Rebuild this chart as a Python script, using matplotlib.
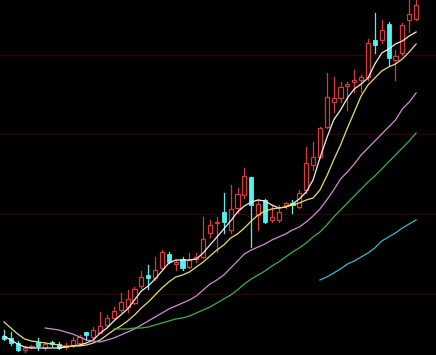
import matplotlib
matplotlib.use('Agg')
import matplotlib.pyplot as plt
from matplotlib.patches import Rectangle

# K线数据 (价格单位, 从图上读出)
opens = [19, 17, 12, 5, 8, 13, 7, 13, 11, 8, 10, 12, 23, 18, 22, 30, 37, 45, 48, 52,
         69, 80, 77, 87, 101, 91, 96, 88, 96, 98, 122, 132, 143, 125, 147, 160, 178, 140,
         155, 135, 135, 150, 152, 148, 165, 190, 198, 228, 253, 257, 269, 273, 275, 278,
         315, 315, 331, 295, 302, 335, 336]
closes = [16, 12, 5, 7, 9, 9, 11, 11, 7, 10, 15, 18, 20, 25, 29, 37, 44, 53, 56, 66,
          78, 77, 85, 103, 93, 93, 87, 95, 98, 116, 130, 133, 133, 146, 161, 179, 150, 151,
          133, 138, 143, 152, 150, 162, 192, 198, 227, 258, 257, 268, 271, 275, 278, 312,
          310, 325, 297, 299, 330, 341, 350]
highs = [25, 23, 14, 9, 10, 17, 13, 14, 13, 12, 18, 20, 23, 28, 43, 40, 48, 62, 65, 68,
         84, 90, 98, 105, 103, 95, 98, 102, 102, 138, 135, 138, 162, 170, 167, 187, 178,
         156, 156, 150, 150, 153, 155, 165, 208, 213, 228, 282, 278, 273, 273, 285, 280,
         316, 342, 335, 333, 305, 332, 355, 355]
lows = [15, 10, 4, 3, 7, 5, 5, 9, 6, 6, 8, 10, 15, 16, 22, 29, 35, 43, 43, 51, 67, 66,
        75, 85, 92, 85, 85, 87, 93, 97, 118, 103, 122, 122, 142, 157, 108, 125, 132, 133,
        133, 147, 142, 147, 162, 185, 197, 227, 243, 253, 245, 263, 263, 275, 302, 312,
        290, 275, 300, 323, 335]

# 均线数据 (起始序号, 数值)
ma5_start = 0
ma5 = [19, 15, 11, 8, 7, 7, 7, 7, 7, 8, 9, 10, 12, 15, 22, 27, 34, 40, 46, 55, 64,
       69, 76, 84, 92, 95, 95, 95, 96, 102, 110, 118, 126, 134, 143, 149, 153, 155, 154,
       150, 147, 148, 151, 156, 163, 175, 197, 217, 235, 245, 257, 266, 271, 277, 291,
       302, 306, 311, 314, 319, 323]
ma10_start = 0
ma10 = [33, 27, 21, 16, 14, 13, 12, 11, 10, 8, 9, 9, 10, 12, 15, 20, 25, 29, 34, 40,
        47, 53, 60, 67, 73, 78, 80, 83, 88, 93, 99, 105, 110, 117, 121, 127, 134, 140,
        144, 146, 147, 148, 150, 152, 155, 157, 165, 179, 195, 210, 227, 243, 259, 270,
        277, 284, 288, 291, 296, 303, 311]
ma20_start = 6
ma20 = [27, 26, 25, 23, 21, 18, 15, 14, 13, 15, 17, 20, 23, 26, 30, 34, 38, 42, 46,
        49, 52, 55, 59, 65, 71, 75, 80, 87, 94, 101, 105, 108, 111, 115, 118, 121, 125,
        128, 133, 139, 146, 155, 165, 176, 183, 191, 200, 207, 214, 221, 228, 235, 246,
        253, 262]
ma30_start = 16
ma30 = [26, 26, 26, 27, 27, 28, 30, 32, 34, 36, 37, 39, 42, 45, 48, 52, 56, 60, 65,
        71, 76, 80, 84, 89, 93, 98, 103, 107, 112, 118, 123, 130, 138, 145, 152, 159,
        166, 173, 179, 186, 193, 200, 207, 214, 222]
ma60_start = 46
ma60 = [75, 78, 82, 86, 91, 94, 98, 102, 107, 114, 118, 122, 127, 131, 135]

grid_levels = [61, 141, 221, 300]

bg = 'black'
up_color = '#dc3838'
down_color = '#54f0f0'

fig = plt.figure(figsize=(4.36, 3.55), dpi=100, facecolor=bg)
ax = fig.add_axes([0, 0, 1, 1], facecolor=bg)

# 暗红色网格线
for g in grid_levels:
    ax.axhline(g, color='#2a080c', lw=1.0, zorder=0)

# 均线
def draw_ma(start, vals, color, lw=0.9):
    xs = list(range(start, start + len(vals)))
    ax.plot(xs, vals, color=color, lw=lw, zorder=3)

draw_ma(ma5_start, ma5, '#f0f0f0')
draw_ma(ma10_start, ma10, '#e6e070')
draw_ma(ma20_start, ma20, '#d58ad8')
draw_ma(ma30_start, ma30, '#3fb04a')
draw_ma(ma60_start, ma60, '#3ab8c8')

# K线
w = 0.6
for i in range(len(opens)):
    o, c, h, l = opens[i], closes[i], highs[i], lows[i]
    lo, hi = min(o, c), max(o, c)
    if c >= o:
        col = up_color
        ax.plot([i, i], [l, lo], color=col, lw=0.9, zorder=2)
        ax.plot([i, i], [hi, h], color=col, lw=0.9, zorder=2)
        ax.add_patch(Rectangle((i - w / 2, lo), w, max(hi - lo, 0.8),
                               facecolor=bg, edgecolor=col, lw=0.9, zorder=2))
    else:
        col = down_color
        ax.plot([i, i], [l, h], color=col, lw=0.9, zorder=2)
        ax.add_patch(Rectangle((i - w / 2, lo), w, max(hi - lo, 0.8),
                               facecolor=col, edgecolor=col, lw=0.6, zorder=2))

ax.set_xlim(-0.58, 62.9)
ax.set_ylim(0, 355)
ax.axis('off')

fig.savefig('out.png', dpi=100, facecolor=bg)
